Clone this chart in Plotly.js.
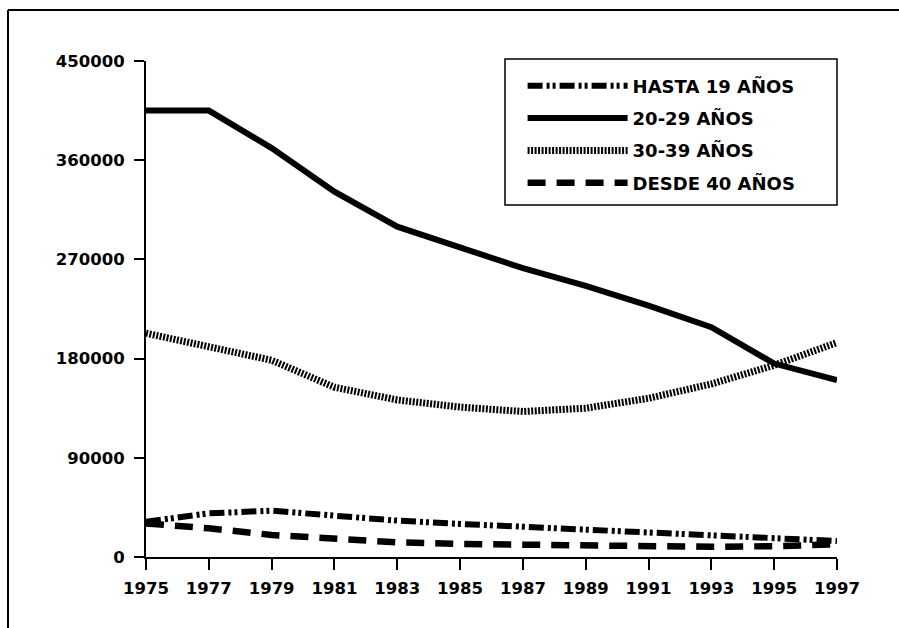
<!DOCTYPE html>
<html>
<head>
<meta charset="utf-8">
<script src="https://cdn.plot.ly/plotly-3.0.1.min.js"></script>
<style>html,body{margin:0;padding:0;background:#fff;overflow:hidden;}#chart{width:899px;height:628px;}</style>
</head>
<body>
<div id="chart"></div>
<script>
const years = [1975, 1977, 1979, 1981, 1983, 1985, 1987, 1989, 1991, 1993, 1995, 1997];
const hasta19 = [32000, 39600, 42000, 37200, 33000, 30000, 27500, 24000, 21500, 19500, 17000, 14500];
const de20a29 = [405000, 405000, 371000, 331500, 299700, 281000, 262000, 246000, 228000, 208500, 175500, 160500];
const de30a39 = [203000, 190800, 178500, 154000, 142500, 136000, 132000, 135000, 144000, 157000, 174000, 194500];
const desde40 = [30500, 26000, 20000, 16000, 13300, 11800, 11000, 10000, 9300, 9300, 9800, 11500];
const seriesNames = ['HASTA 19 AÑOS', '20-29 AÑOS', '30-39 AÑOS', 'DESDE 40 AÑOS'];
const yTicks = [0, 90000, 180000, 270000, 360000, 450000];

const FONT = 'DejaVu Sans, Liberation Sans, Arial, sans-serif';

const traces = [
  {x: years, y: hasta19, name: seriesNames[0], legendgroup: 'a',
   line: {color: '#000', width: 6, dash: '15px,4px,3px,3px,3px,4px'}},
  {x: years, y: de20a29, name: seriesNames[1], legendgroup: 'b',
   line: {color: '#000', width: 6}},
  {x: years, y: de30a39, name: seriesNames[2], legendgroup: 'c',
   line: {color: '#000', width: 7, dash: '2px,1.5px'}},
  {x: years, y: desde40, name: seriesNames[3], legendgroup: 'd',
   line: {color: '#000', width: 6.5, dash: '18px,11px'}}
].map(t => Object.assign({type: 'scatter', mode: 'lines'}, t));

const layout = {
  width: 899, height: 628,
  margin: {l: 146, r: 62, t: 61, b: 71},
  paper_bgcolor: '#fff', plot_bgcolor: '#fff',
  font: {family: FONT, color: '#000', size: 16, weight: 'bold'},
  showlegend: true,
  xaxis: {
    range: [1975, 1997], tickvals: years, ticktext: years.map(String),
    showgrid: false, zeroline: false, showline: true, linecolor: '#000', linewidth: 2,
    ticks: 'outside', ticklen: 11, tickwidth: 2, tickcolor: '#000',
    tickfont: {family: FONT, size: 16.5, weight: 'bold', color: '#000'},
    ticklabelstandoff: 4
  },
  yaxis: {
    range: [0, 450000], tickvals: yTicks, ticktext: yTicks.map(String),
    showgrid: false, zeroline: false, showline: true, linecolor: '#000', linewidth: 2,
    ticks: 'outside', ticklen: 10, tickwidth: 2, tickcolor: '#000',
    tickfont: {family: FONT, size: 16.5, weight: 'bold', color: '#000'},
    ticklabelstandoff: 6
  },
  legend: {
    x: 0.545, y: 0.987, xanchor: 'left', yanchor: 'top',
    bgcolor: 'rgba(0,0,0,0)', borderwidth: 0,
    font: {family: FONT, size: 18, weight: 'bold', color: '#000'},
    itemwidth: 100, tracegroupgap: 6, traceorder: 'grouped'
  },
  shapes: [
    {type: 'line', xref: 'paper', yref: 'paper', x0: -0.1997, x1: 1.09, y0: 1.1028, y1: 1.1028,
     line: {color: '#000', width: 2}, layer: 'below'},
    {type: 'line', xref: 'paper', yref: 'paper', x0: -0.1997, x1: -0.1997, y0: -0.143, y1: 1.1028,
     line: {color: '#000', width: 2}, layer: 'below'},
    {type: 'rect', xref: 'paper', yref: 'paper', x0: 0.5195, x1: 1.0, y0: 0.7097, y1: 1.004,
     line: {color: '#000', width: 1.5}, fillcolor: '#fff', layer: 'below'}
  ]
};

Plotly.newPlot('chart', traces, layout, {displayModeBar: false, staticPlot: true});
</script>
</body>
</html>
